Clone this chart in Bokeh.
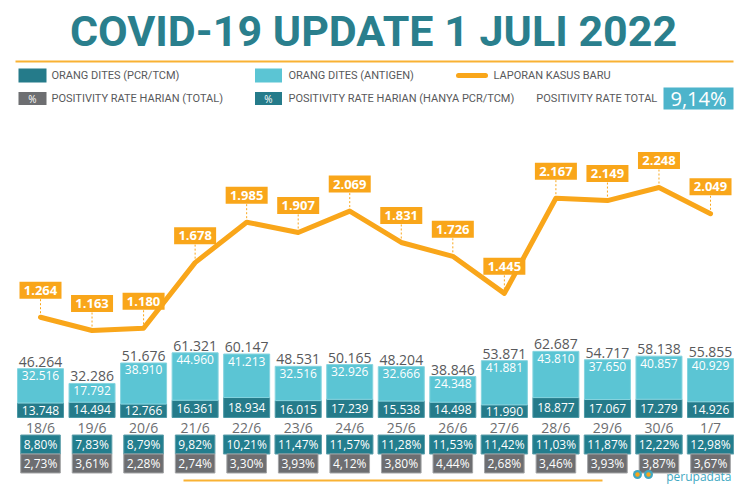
from bokeh.plotting import figure
from bokeh.models import Range1d
from bokeh.core.properties import value
from bokeh.embed import file_html
from bokeh.resources import INLINE

# ---------------- data ----------------
dates = ["18/6", "19/6", "20/6", "21/6", "22/6", "23/6", "24/6",
         "25/6", "26/6", "27/6", "28/6", "29/6", "30/6", "1/7"]
pcr = [13748, 14494, 12766, 16361, 18934, 16015, 17239,
       15538, 14498, 11990, 18877, 17067, 17279, 14926]
antigen = [32516, 17792, 38910, 44960, 41213, 32516, 32926,
           32666, 24348, 41881, 43810, 37650, 40857, 40929]
totals = [46264, 32286, 51676, 61321, 60147, 48531, 50165,
          48204, 38846, 53871, 62687, 54717, 58138, 55855]
cases = [1264, 1163, 1180, 1678, 1985, 1907, 2069,
         1831, 1726, 1445, 2167, 2149, 2248, 2049]
pos_pcr = ["8,80%", "7,83%", "8,79%", "9,82%", "10,21%", "11,47%", "11,57%",
           "11,28%", "11,53%", "11,42%", "11,03%", "11,87%", "12,22%", "12,98%"]
pos_total = ["2,73%", "3,61%", "2,28%", "2,74%", "3,30%", "3,93%", "4,12%",
             "3,80%", "4,44%", "2,68%", "3,46%", "3,93%", "3,87%", "3,67%"]
total_rate = "9,14%"
title = "COVID-19 UPDATE 1 JULI 2022"
legend_labels = ["ORANG DITES (PCR/TCM)", "ORANG DITES (ANTIGEN)", "LAPORAN KASUS BARU",
                 "POSITIVITY RATE HARIAN (TOTAL)", "POSITIVITY RATE HARIAN (HANYA PCR/TCM)",
                 "POSITIVITY RATE TOTAL"]
brand = "perupadata"

# ---------------- layout constants ----------------
W, H = 734, 484
LEFT, RIGHT, TOP, BOTTOM = 0, W, 0, H           # page px covered by the figure
X0_PX, STEP_PX = 40.0, 51.54                    # first bar centre / bar spacing
TEST_BASE_PX, TEST_PX = 417.0, 1.055 / 1000.0   # bar baseline / px per test
CASE_BASE_PX, CASE_PX = 483.3, 0.1318           # line zero / px per case

TEAL_DARK = "#257B8A"
CYAN = "#5BC5D4"
ORANGE = "#F9A61A"
GRAY_BOX = "#6D6E71"
TEXT_GRAY = "#58595B"
TITLE_TEAL = "#2A7F8D"
BRAND = "#40A8C2"

FONT = value("Open Sans")
HEAD = value("Roboto")

idx = list(range(len(dates)))
bar_tops = [a + b for a, b in zip(pcr, antigen)]
pcr_mid = [v / 2 for v in pcr]


def fmt(v):
    return f"{v:,}".replace(",", ".")


p = figure(
    width=W, height=H, output_backend="svg", toolbar_location=None,
    x_range=Range1d((LEFT - X0_PX) / STEP_PX, (RIGHT - X0_PX) / STEP_PX),
    y_range=Range1d(-(BOTTOM - TEST_BASE_PX) / TEST_PX, (TEST_BASE_PX - TOP) / TEST_PX),
    min_border=0, x_axis_location=None, y_axis_location=None,
    outline_line_color=None, background_fill_color="white",
)
p.xgrid.grid_line_color = None
p.ygrid.grid_line_color = None
p.extra_x_ranges = {"px": Range1d(LEFT, RIGHT)}
p.extra_y_ranges = {
    "px": Range1d(BOTTOM, TOP),
    "cases": Range1d((CASE_BASE_PX - BOTTOM) / CASE_PX, (CASE_BASE_PX - TOP) / CASE_PX),
}
PX = dict(x_range_name="px", y_range_name="px")

# ---------------- header ----------------
p.text(x=[373], y=[30], text=[title], text_font=HEAD, text_font_style="bold",
       text_font_size="43px", text_color=TITLE_TEAL, text_align="center",
       text_baseline="middle", **PX)
p.segment(x0=[15], y0=[61], x1=[733], y1=[61], line_color="#F9B233", line_width=2, **PX)

# legend row 1
p.rect(x=[32], y=[75], width=[28], height=[14], fill_color=TEAL_DARK, line_color=None, **PX)
p.rect(x=[268], y=[75], width=[27], height=[14], fill_color=CYAN, line_color=None, **PX)
p.segment(x0=[458], y0=[75], x1=[485], y1=[75], line_color=ORANGE, line_width=5,
          line_cap="round", **PX)
p.text(x=[51, 288, 493], y=[75, 75, 75], text=legend_labels[:3],
       text_font=HEAD, text_font_size="11px", text_color=TEXT_GRAY,
       text_baseline="middle", **PX)
# legend row 2
p.rect(x=[32], y=[98], width=[28], height=[13], fill_color=GRAY_BOX, line_color=None, **PX)
p.rect(x=[268], y=[98], width=[27], height=[13], fill_color=TEAL_DARK, line_color=None, **PX)
p.text(x=[32, 268], y=[98, 98], text=["%", "%"], text_font=FONT, text_font_size="10px",
       text_color="white", text_align="center", text_baseline="middle", **PX)
p.text(x=[51, 288], y=[98, 98], text=legend_labels[3:5],
       text_font=HEAD, text_font_size="11px", text_color=TEXT_GRAY,
       text_baseline="middle", **PX)
p.text(x=[657], y=[98], text=[legend_labels[5]], text_font=HEAD,
       text_font_size="11px", text_color=TEXT_GRAY, text_align="right",
       text_baseline="middle", **PX)
p.rect(x=[698], y=[98], width=[70], height=[22], fill_color="#4DB4CB", line_color=None, **PX)
p.text(x=[698], y=[98], text=[total_rate], text_font=FONT, text_font_size="20px",
       text_color="white", text_align="center", text_baseline="middle", **PX)

# ---------------- bars ----------------
BW = 46 / STEP_PX
p.vbar(x=idx, width=BW, bottom=0, top=pcr, fill_color=TEAL_DARK,
       line_color="#4B98A5", line_width=1)
p.vbar(x=idx, width=BW, bottom=pcr, top=bar_tops, fill_color=CYAN,
       line_color="#86D4DF", line_width=1)

p.text(x=idx, y=bar_tops, text=[fmt(v) for v in totals], text_font=FONT,
       text_font_size="14px", text_color=TEXT_GRAY, text_align="center",
       text_baseline="bottom", y_offset=-2)
p.text(x=idx, y=bar_tops, text=[fmt(v) for v in antigen], text_font=FONT,
       text_font_size="12px", text_color="white", text_align="center",
       text_baseline="middle", y_offset=7)
p.text(x=idx, y=pcr_mid, text=[fmt(v) for v in pcr], text_font=FONT,
       text_font_size="12px", text_color="white", text_align="center",
       text_baseline="middle")

# dates and positivity boxes
p.text(x=idx, y=[TEST_BASE_PX + 10] * len(idx), text=dates, text_font=FONT,
       text_font_size="14px", text_color="#6D6E71", text_align="center",
       text_baseline="middle", y_range_name="px")
p.text(x=idx, y=[TEST_BASE_PX + 27] * len(idx), text=pos_pcr, text_font=FONT,
       text_font_size="12px", text_color="white", text_align="center",
       text_baseline="middle", background_fill_color="#237E8E",
       border_line_color="#5E9FAA", padding=(3, 1), y_range_name="px")
p.text(x=idx, y=[TEST_BASE_PX + 46] * len(idx), text=pos_total, text_font=FONT,
       text_font_size="12px", text_color="white", text_align="center",
       text_baseline="middle", background_fill_color=GRAY_BOX,
       border_line_color="#A3A4A6", padding=(3, 1), y_range_name="px")

# ---------------- cases line ----------------
LABEL_UP_PX = 27
GAP_LOW_PX, GAP_HIGH_PX = 4, 18
p.segment(x0=idx, y0=[c + GAP_LOW_PX / CASE_PX for c in cases],
          x1=idx, y1=[c + GAP_HIGH_PX / CASE_PX for c in cases],
          line_color=ORANGE, line_width=1, line_dash="2 2", y_range_name="cases")
p.line(x=idx, y=cases, line_color=ORANGE, line_width=5, line_join="round",
       line_cap="round", y_range_name="cases")
p.rect(x=idx, y=[c + LABEL_UP_PX / CASE_PX for c in cases], width=42, height=17,
       width_units="screen", height_units="screen", fill_color=ORANGE,
       line_color=None, y_range_name="cases")
p.text(x=idx, y=[c + LABEL_UP_PX / CASE_PX for c in cases], text=[fmt(v) for v in cases],
       text_font=FONT, text_font_style="bold", text_font_size="13px", text_color="white",
       text_align="center", text_baseline="middle", y_range_name="cases")

# ---------------- footer ----------------
p.segment(x0=[183], y0=[480], x1=[602], y1=[480], line_color="#F9B233", line_width=2, **PX)
p.circle(x=[637, 648], y=[474, 474], radius=[4.5, 4.5], fill_color=BRAND,
         line_color=None, **PX)
p.circle(x=[637, 648], y=[474, 474], radius=[2.2, 2.2], fill_color=ORANGE,
         line_color=None, **PX)
p.text(x=[731], y=[476], text=[brand], text_font=FONT, text_font_size="12px",
       text_color=BRAND, text_align="right", text_baseline="alphabetic", **PX)

open("out.html", "w").write(file_html(p, INLINE))
